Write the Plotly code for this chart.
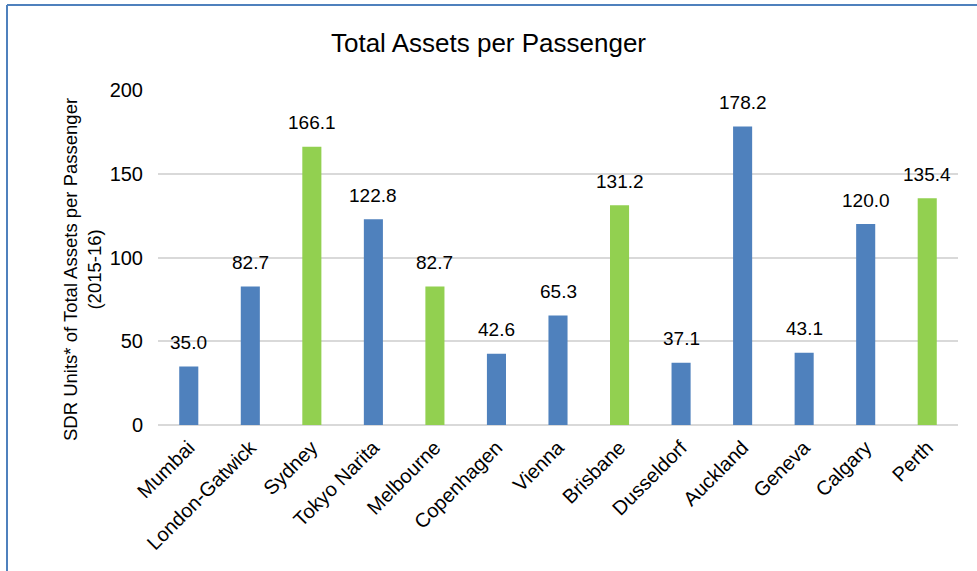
import plotly.graph_objects as go

airports = ["Mumbai", "London-Gatwick", "Sydney", "Tokyo Narita", "Melbourne",
            "Copenhagen", "Vienna", "Brisbane", "Dusseldorf", "Auckland",
            "Geneva", "Calgary", "Perth"]
assets_per_pax = [35.0, 82.7, 166.1, 122.8, 82.7, 42.6, 65.3, 131.2, 37.1,
                  178.2, 43.1, 120.0, 135.4]
australian = ["Sydney", "Melbourne", "Brisbane", "Perth"]
y_ticks = [0, 50, 100, 150, 200]

BLUE = "#4F81BD"
GREEN = "#92D050"
FONT = "Liberation Sans, Arial, sans-serif"

colors = [GREEN if a in australian else BLUE for a in airports]

fig = go.Figure(go.Bar(
    x=airports,
    y=assets_per_pax,
    marker=dict(color=colors, line=dict(width=0)),
    cliponaxis=False,
))

# value labels above each bar
for name, val in zip(airports, assets_per_pax):
    fig.add_annotation(x=name, y=val, text=f"{val:.1f}", showarrow=False,
                       yanchor="middle", yshift=24,
                       font=dict(size=19, family=FONT, color="#000000"))

# y-axis title, placed as a rotated annotation
fig.add_annotation(xref="paper", yref="paper",
                   x=(82 - 158) / 800, y=(425 - 270) / 335,
                   xanchor="center", yanchor="middle", textangle=-90,
                   text="SDR Units* of Total Assets per Passenger<br>(2015-16)",
                   showarrow=False, align="center",
                   font=dict(size=18.5, family=FONT, color="#000000"))

fig.update_layout(
    width=977, height=571,
    paper_bgcolor="white", plot_bgcolor="white",
    margin=dict(l=158, r=19, t=90, b=146),
    bargap=0.69,
    showlegend=False,
    font=dict(family=FONT, color="#000000"),
    title=dict(text="Total Assets per Passenger", x=0.5, xanchor="center",
               y=1 - 43 / 571, yanchor="middle",
               font=dict(size=26, family=FONT, color="#000000")),
    xaxis=dict(tickangle=-45, tickfont=dict(size=20, family=FONT),
               showline=False, showgrid=False, ticks="", ticklabelstandoff=6),
    yaxis=dict(range=[0, 200], tickvals=y_ticks, ticktext=[str(t) for t in y_ticks],
               tickfont=dict(size=20, family=FONT),
               showgrid=True, gridcolor="#D9D9D9", gridwidth=1.5,
               zeroline=True, zerolinecolor="#D9D9D9", zerolinewidth=1.5,
               ticks="", ticklabelstandoff=14),
)

# partial frame: top and left edges
fig.add_shape(type="line", xref="paper", yref="paper",
              x0=(7 - 158) / 800, x1=1 + 19 / 800,
              y0=1 + 85 / 335, y1=1 + 85 / 335,
              line=dict(color=BLUE, width=2))
fig.add_shape(type="line", xref="paper", yref="paper",
              x0=(7 - 158) / 800, x1=(7 - 158) / 800,
              y0=1 + 85 / 335, y1=-146 / 335,
              line=dict(color=BLUE, width=2))

fig.write_html("out.html")
